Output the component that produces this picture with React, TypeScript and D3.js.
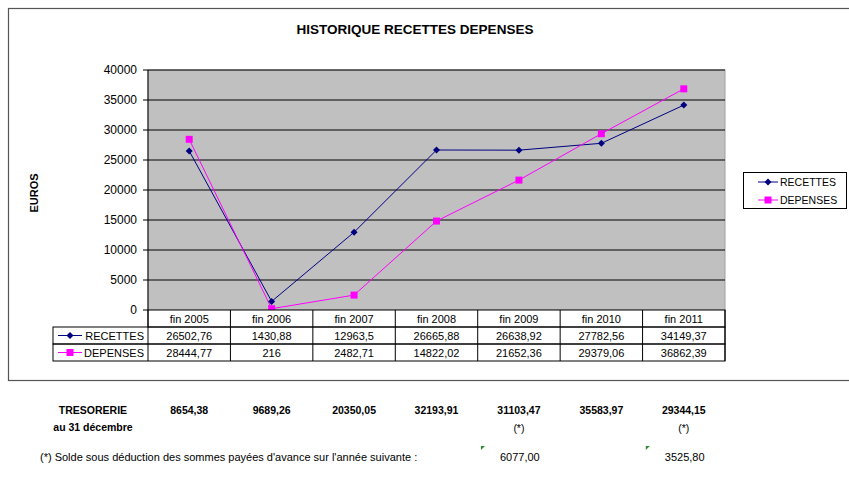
import * as d3 from "d3";

const categories = ["fin 2005", "fin 2006", "fin 2007", "fin 2008", "fin 2009", "fin 2010", "fin 2011"];
const recettes = [26502.76, 1430.88, 12963.5, 26665.88, 26638.92, 27782.56, 34149.37];
const depenses = [28444.77, 216, 2482.71, 14822.02, 21652.36, 29379.06, 36862.39];
const yTicks = [0, 5000, 10000, 15000, 20000, 25000, 30000, 35000, 40000];
const tresorerie = [8654.38, 9689.26, 20350.05, 32193.91, 31103.47, 35583.97, 29344.15];
const starred = [false, false, false, false, true, false, true];
const advance = [null, null, null, null, 6077.0, null, 3525.8];

const font = "'Liberation Sans', Arial, sans-serif";
const NAVY = "#000080";
const MAG = "#ff00ff";

const fmt = (v: number) => String(v).replace(".", ",");
const fmt2 = (v: number) => v.toFixed(2).replace(".", ",");

function Diamond({ x, y }: { x: number; y: number }) {
  return <path d={`M${x},${y - 3.5}L${x + 3.5},${y}L${x},${y + 3.5}L${x - 3.5},${y}Z`} fill={NAVY} />;
}
function Square({ x, y }: { x: number; y: number }) {
  return <rect x={x - 3.5} y={y - 3.5} width={7} height={7} fill={MAG} />;
}

export default function App() {
  const plotL = 148, plotR = 725, plotT = 70, plotB = 310;
  const x = d3.scaleBand<string>().domain(categories).range([plotL, plotR]);
  const y = d3.scaleLinear().domain([0, 40000]).range([plotB, plotT]);
  const cx = (c: string) => (x(c) ?? 0) + x.bandwidth() / 2;
  const line = d3.line<number>().x((_, i) => cx(categories[i])).y((d) => y(d));

  const rowH = 17;
  const tableL = 53;
  const rows = [
    { name: "RECETTES", vals: recettes, color: NAVY },
    { name: "DEPENSES", vals: depenses, color: MAG },
  ];

  return (
    <svg width={849} height={477} style={{ position: "absolute", left: 0, top: 0, background: "#fff" }} fontFamily={font}>
      <rect x={8.5} y={8.5} width={860} height={372} fill="#fff" stroke="#555" strokeWidth={1.2} />
      <text x={415} y={34} textAnchor="middle" fontSize={13.5} fontWeight="bold">HISTORIQUE RECETTES DEPENSES</text>

      <rect x={plotL} y={plotT} width={plotR - plotL} height={plotB - plotT} fill="#c0c0c0" stroke="#a0a0a0" />
      {yTicks.map((t) => (
        <g key={t}>
          {t > 0 && <line x1={plotL} x2={plotR} y1={y(t)} y2={y(t)} stroke="#000" strokeWidth={1} />}
          <line x1={plotL - 5} x2={plotL} y1={y(t)} y2={y(t)} stroke="#000" />
          <text x={plotL - 11} y={y(t) + 4} textAnchor="end" fontSize={12}>{t}</text>
        </g>
      ))}
      <line x1={plotL} x2={plotL} y1={plotT} y2={plotB} stroke="#000" />
      <text transform={`translate(38,193) rotate(-90)`} textAnchor="middle" fontSize={11} fontWeight="bold">EUROS</text>

      <path d={line(recettes) ?? ""} fill="none" stroke={NAVY} strokeWidth={1} />
      <path d={line(depenses) ?? ""} fill="none" stroke={MAG} strokeWidth={1} />
      {recettes.map((v, i) => <Diamond key={"r" + i} x={cx(categories[i])} y={y(v)} />)}
      {depenses.map((v, i) => <Square key={"d" + i} x={cx(categories[i])} y={y(v)} />)}

      {/* data table */}
      <g fontSize={11}>
        <rect x={plotL} y={plotB} width={plotR - plotL} height={rowH} fill="#fff" stroke="#000" />
        {categories.map((c) => (
          <g key={c}>
            <line x1={x(c)} x2={x(c)} y1={plotB} y2={plotB + rowH * 3} stroke="#000" />
            <text x={cx(c)} y={plotB + 13} textAnchor="middle">{c}</text>
          </g>
        ))}
        {rows.map((r, ri) => {
          const ry = plotB + rowH * (ri + 1);
          return (
            <g key={r.name}>
              <rect x={tableL} y={ry} width={plotR - tableL} height={rowH} fill="none" stroke="#000" />
              <line x1={tableL + 5} x2={tableL + 29} y1={ry + 8.5} y2={ry + 8.5} stroke={r.color} />
              {ri === 0 ? <Diamond x={tableL + 17} y={ry + 8.5} /> : <Square x={tableL + 17} y={ry + 8.5} />}
              <text x={plotL - 4} y={ry + 13} textAnchor="end">{r.name}</text>
              {r.vals.map((v, i) => (
                <text key={i} x={cx(categories[i])} y={ry + 13} textAnchor="middle">{fmt(v)}</text>
              ))}
            </g>
          );
        })}
        <line x1={plotR} x2={plotR} y1={plotB} y2={plotB + rowH * 3} stroke="#000" />
      </g>

      {/* legend */}
      <rect x={743.5} y={172.5} width={103} height={36} fill="#fff" stroke="#000" />
      <g fontSize={10.5}>
        <line x1={758} x2={778} y1={182} y2={182} stroke={NAVY} />
        <Diamond x={768} y={182} />
        <text x={780} y={186}>RECETTES</text>
        <line x1={758} x2={778} y1={200} y2={200} stroke={MAG} />
        <Square x={768} y={200} />
        <text x={780} y={204}>DEPENSES</text>
      </g>

      {/* tresorerie */}
      <g fontSize={10.5} fontWeight="bold">
        <text x={93} y={414} textAnchor="middle">TRESORERIE</text>
        <text x={93} y={431} textAnchor="middle">au 31 décembre</text>
        {tresorerie.map((v, i) => (
          <text key={i} x={cx(categories[i])} y={414} textAnchor="middle">{fmt2(v)}</text>
        ))}
      </g>
      <g fontSize={10.5}>
        {starred.map((s, i) => s && (
          <text key={i} x={cx(categories[i])} y={432} textAnchor="middle">(*)</text>
        ))}
      </g>
      <g fontSize={11}>
        <text x={40} y={461}>(*) Solde sous déduction des sommes payées d'avance sur l'année suivante :</text>
        {advance.map((v, i) => v !== null && (
          <g key={i}>
            <path d={`M${cx(categories[i]) - 38},${446}l4,0l-4,4Z`} fill="#2e8b2e" />
            <text x={cx(categories[i]) - 19} y={461}>{fmt2(v)}</text>
          </g>
        ))}
      </g>
    </svg>
  );
}
